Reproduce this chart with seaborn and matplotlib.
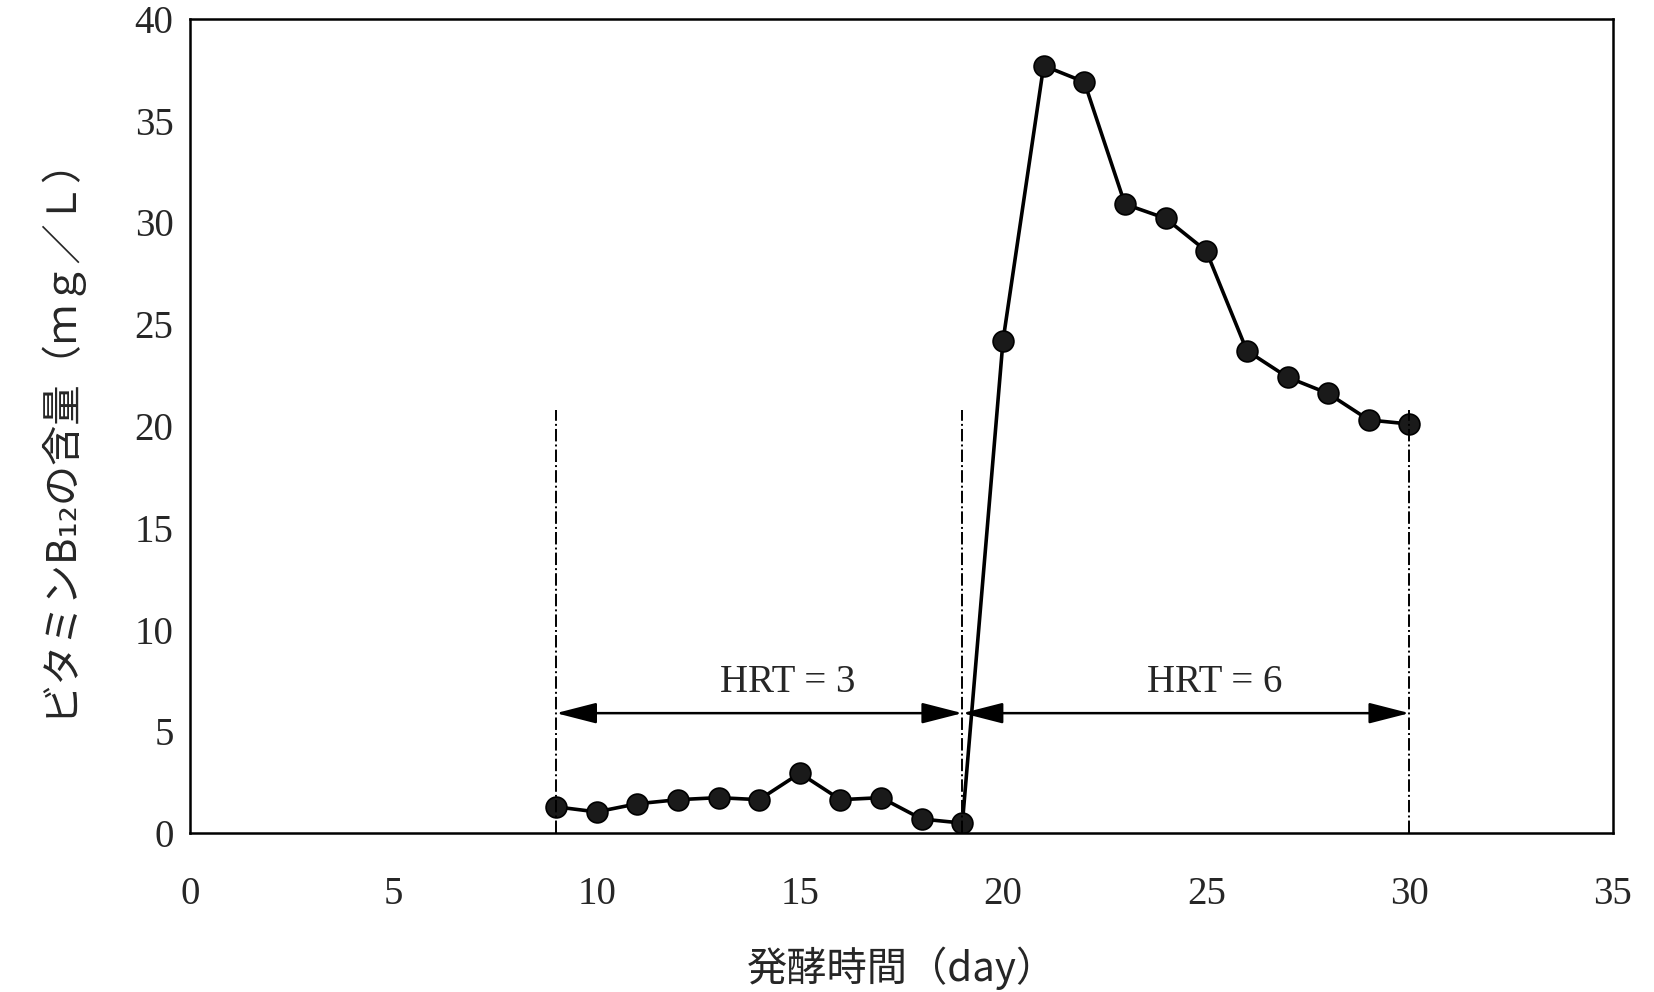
import numpy as np
import pandas as pd
import matplotlib
matplotlib.use('Agg')
import matplotlib.pyplot as plt
import seaborn as sns

# fermentation day vs vitamin B12 content (mg/L)
days = [9, 10, 11, 12, 13, 14, 15, 16, 17, 18, 19,
        20, 21, 22, 23, 24, 25, 26, 27, 28, 29, 30]
b12 = [1.3, 1.05, 1.45, 1.65, 1.75, 1.65, 2.95, 1.65, 1.75, 0.7, 0.5,
       24.2, 37.7, 36.9, 30.9, 30.2, 28.6, 23.7, 22.4, 21.6, 20.3, 20.1]

# HRT phase boundaries (days) and labels
phase_bounds = [9, 19, 30]
phase_labels = ["HRT = 3", "HRT = 6"]
bound_top = 20.8     # how far up the dash-dot boundary lines run
arrow_y = 5.9        # height of the double arrows
label_y = 7.4        # height of the HRT texts

x_ticks = [0, 5, 10, 15, 20, 25, 30, 35]
y_ticks = [0, 5, 10, 15, 20, 25, 30, 35, 40]

sns.set_style("white")
plt.rcParams['font.family'] = ['Liberation Serif', 'DejaVu Serif']
jp_font = ['Noto Sans CJK JP', 'DejaVu Sans']

df = pd.DataFrame({"day": days, "b12": b12})

fig = plt.figure(figsize=(16.54, 9.92), dpi=100)
ax = fig.add_axes([0.115, 0.160, 0.860, 0.821])

sns.lineplot(data=df, x="day", y="b12", ax=ax, color="black", linewidth=2.6,
             marker="o", markersize=15, markerfacecolor="#1a1a1a",
             markeredgecolor="black", markeredgewidth=1.2)

# dash-dot phase boundaries
ax.vlines(phase_bounds, 0, bound_top, colors="black", linestyles="-.",
          linewidth=1.4)

# double arrows + labels for each HRT phase
for i, lab in enumerate(phase_labels):
    x0, x1 = phase_bounds[i], phase_bounds[i + 1]
    ax.annotate("", xy=(x1, arrow_y), xytext=(x0, arrow_y),
                arrowprops=dict(arrowstyle="<|-|>,head_length=1.25,head_width=0.32",
                                color="black", lw=1.8, mutation_scale=20,
                                shrinkA=0, shrinkB=0))
    ax.text((x0 + x1) / 2 + 0.7, label_y, lab, ha="center", va="center",
            fontsize=28)

ax.set_xlim(0, 35)
ax.set_ylim(0, 40)
ax.set_xticks(x_ticks)
ax.set_yticks(y_ticks)
ax.tick_params(axis="x", labelsize=28, pad=31, direction="in", length=0)
ax.tick_params(axis="y", labelsize=28, pad=12, direction="in", length=0)

for sp in ax.spines.values():
    sp.set_visible(True)
    sp.set_color("black")
    sp.set_linewidth(1.8)

ax.set_xlabel("発酵時間（day）", fontsize=29, family=jp_font, labelpad=24)
ax.set_ylabel("ビタミンB₁₂の含量（ｍｇ／Ｌ）", fontsize=29, family=jp_font,
              labelpad=40)

fig.savefig("out.png", dpi=100, facecolor="white")
plt.close(fig)
